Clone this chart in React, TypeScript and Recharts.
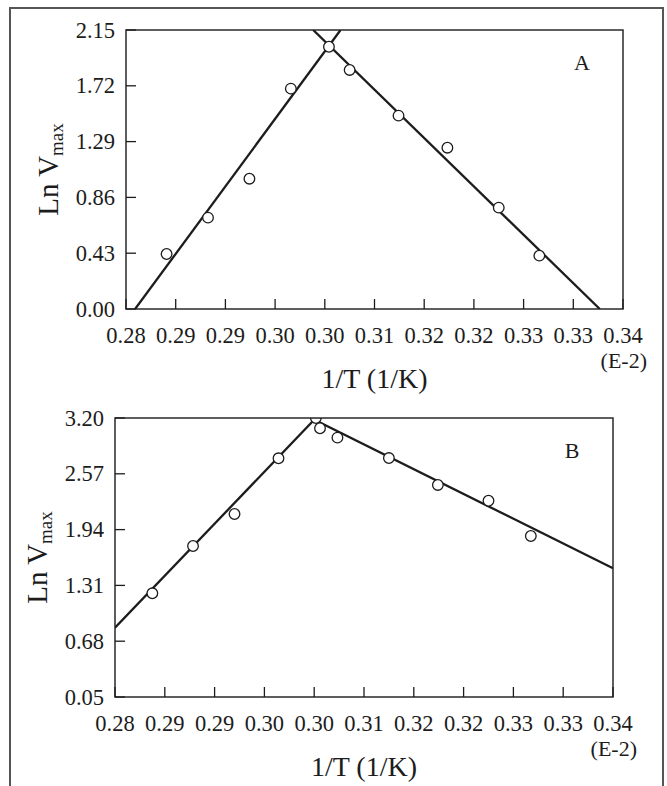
import React from 'react';
import { ComposedChart, Line, Scatter, XAxis, YAxis, ReferenceArea } from 'recharts';

const FONT = '"Liberation Serif", "Times New Roman", Times, serif';
const INK = '#1c1c1c';

// shared x axis (1/T, units E-2)
const xTicks = [0.28, 0.286, 0.292, 0.298, 0.304, 0.31, 0.316, 0.322, 0.328, 0.334, 0.34];

// Panel A
const yTicksA = [0, 0.43, 0.86, 1.29, 1.72, 2.15];
const pointsA = [
  { x: 0.2849, y: 0.424 },
  { x: 0.2899, y: 0.704 },
  { x: 0.2949, y: 1.004 },
  { x: 0.2999, y: 1.698 },
  { x: 0.3045, y: 2.021 },
  { x: 0.307, y: 1.842 },
  { x: 0.3129, y: 1.49 },
  { x: 0.3188, y: 1.243 },
  { x: 0.325, y: 0.781 },
  { x: 0.3299, y: 0.411 },
];
const lineA1 = [
  { x: 0.2811, y: 0 },
  { x: 0.3059, y: 2.15 },
];
const lineA2 = [
  { x: 0.3026, y: 2.15 },
  { x: 0.3372, y: 0 },
];

// Panel B
const yTicksB = [0.05, 0.68, 1.31, 1.94, 2.57, 3.2];
const pointsB = [
  { x: 0.2845, y: 1.221 },
  { x: 0.2894, y: 1.755 },
  { x: 0.2944, y: 2.116 },
  { x: 0.2997, y: 2.745 },
  { x: 0.3047, y: 3.084 },
  { x: 0.3068, y: 2.978 },
  { x: 0.313, y: 2.748 },
  { x: 0.3189, y: 2.444 },
  { x: 0.325, y: 2.266 },
  { x: 0.3301, y: 1.868 },
  { x: 0.3042, y: 3.2 },
];
const lineB1 = [
  { x: 0.28, y: 0.832 },
  { x: 0.3042, y: 3.2 },
];
const lineB2 = [
  { x: 0.3036, y: 3.2 },
  { x: 0.34, y: 1.503 },
];

const XTick = (props: any) => {
  const { x, y, payload } = props;
  return (
    <g>
      <line x1={x} y1={y} x2={x} y2={y - 10} stroke={INK} strokeWidth={1.3} />
      <text x={x} y={y + 34} textAnchor="middle" fontSize={22.5} fontFamily={FONT} fill={INK}>
        {Number(payload.value).toFixed(2)}
      </text>
    </g>
  );
};

const YTick = (props: any) => {
  const { x, y, payload } = props;
  return (
    <g>
      <line x1={x} y1={y} x2={x + 10} y2={y} stroke={INK} strokeWidth={1.3} />
      <text x={x - 11} y={y + 7.5} textAnchor="end" fontSize={22.5} fontFamily={FONT} fill={INK}>
        {Number(payload.value).toFixed(2)}
      </text>
    </g>
  );
};

const makeDot = (yMax: number) => (props: any) => {
  const { cx, cy, payload } = props;
  const r = 5.3;
  if (payload && payload.y >= yMax) {
    // point sitting on the top frame: only its lower half is visible
    return (
      <path
        d={`M ${cx - r} ${cy} A ${r} ${r} 0 0 0 ${cx + r} ${cy} Z`}
        fill="#fff"
        stroke={INK}
        strokeWidth={1.3}
      />
    );
  }
  return <circle cx={cx} cy={cy} r={r} fill="#fff" stroke={INK} strokeWidth={1.3} />;
};

type PanelProps = {
  width: number;
  height: number;
  margin: { top: number; right: number; bottom: number; left: number };
  points: { x: number; y: number }[];
  lines: { x: number; y: number }[][];
  yTicks: number[];
  letter: string;
};

const Panel = ({ width, height, margin, points, lines, yTicks, letter }: PanelProps) => {
  const xMin = xTicks[0];
  const xMax = xTicks[xTicks.length - 1];
  const yMin = yTicks[0];
  const yMax = yTicks[yTicks.length - 1];
  return (
    <ComposedChart width={width} height={height} margin={margin}>
      <XAxis
        dataKey="x"
        type="number"
        domain={[xMin, xMax]}
        ticks={xTicks}
        allowDataOverflow
        tickSize={0}
        tickMargin={0}
        tickLine={false}
        axisLine={false}
        height={60}
        interval={0}
        tick={<XTick />}
        label={{
          content: (p: any) => {
            const vb = p.viewBox;
            return (
              <g>
                <text
                  x={vb.x + vb.width / 2}
                  y={vb.y + 79}
                  textAnchor="middle"
                  fontSize={28}
                  fontFamily={FONT}
                  fill={INK}
                >
                  1/T (1/K)
                </text>
                <text
                  x={vb.x + vb.width + 24}
                  y={vb.y + 59}
                  textAnchor="end"
                  fontSize={22}
                  fontFamily={FONT}
                  fill={INK}
                >
                  (E-2)
                </text>
              </g>
            );
          },
        }}
      />
      <YAxis
        dataKey="y"
        type="number"
        domain={[yMin, yMax]}
        ticks={yTicks}
        allowDataOverflow
        tickSize={0}
        tickMargin={0}
        tickLine={false}
        axisLine={false}
        width={80}
        interval={0}
        tick={<YTick />}
        label={{
          content: (p: any) => {
            const vb = p.viewBox;
            const bx = vb.x + vb.width - 68;
            const cy = vb.y + vb.height / 2;
            return (
              <text
                x={bx}
                y={cy}
                transform={`rotate(-90, ${bx}, ${cy})`}
                textAnchor="middle"
                fontSize={29}
                fontFamily={FONT}
                fill={INK}
              >
                Ln V
                <tspan fontSize={19} dy={5}>
                  max
                </tspan>
              </text>
            );
          },
        }}
      />
      {lines.map((seg, i) => (
        <Line
          key={i}
          data={seg}
          dataKey="y"
          type="linear"
          dot={false}
          activeDot={false}
          stroke={INK}
          strokeWidth={2.3}
          isAnimationActive={false}
        />
      ))}
      <Scatter data={points} dataKey="y" shape={makeDot(yMax)} isAnimationActive={false} />
      <ReferenceArea
        x1={xMin}
        x2={xMax}
        y1={yMin}
        y2={yMax}
        fill="none"
        fillOpacity={0}
        stroke="#2a2a2a"
        strokeWidth={1.5}
        ifOverflow="visible"
        label={{
          content: (p: any) => {
            const vb = p.viewBox;
            return (
              <text
                x={vb.x + vb.width - 41}
                y={vb.y + 40}
                textAnchor="middle"
                fontSize={22}
                fontFamily={FONT}
                fill={INK}
              >
                {letter}
              </text>
            );
          },
        }}
      />
    </ComposedChart>
  );
};

export default function App() {
  return (
    <div style={{ position: 'fixed', left: 0, top: 0, width: 667, height: 786, background: '#fff', overflow: 'hidden' }}>
      <div
        style={{
          position: 'absolute',
          left: 9,
          top: 7,
          width: 655,
          height: 800,
          boxSizing: 'border-box',
          borderLeft: '2px solid #555',
          borderTop: '2px solid #555',
          borderRight: '2px solid #555',
        }}
      />
      <div style={{ position: 'absolute', left: 0, top: 0 }}>
        <Panel
          width={667}
          height={396}
          margin={{ top: 30, right: 44, bottom: 27, left: 46 }}
          points={pointsA}
          lines={[lineA1, lineA2]}
          yTicks={yTicksA}
          letter="A"
        />
      </div>
      <div style={{ position: 'absolute', left: 0, top: 396 }}>
        <Panel
          width={667}
          height={390}
          margin={{ top: 22, right: 54, bottom: 29, left: 35 }}
          points={pointsB}
          lines={[lineB1, lineB2]}
          yTicks={yTicksB}
          letter="B"
        />
      </div>
    </div>
  );
}
